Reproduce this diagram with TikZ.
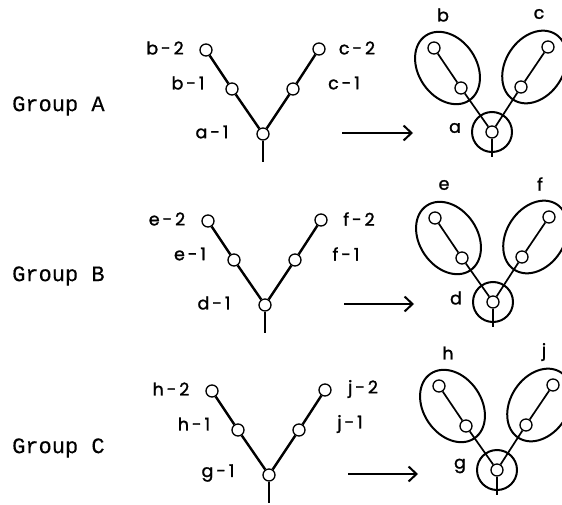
\documentclass[tikz,border=0pt]{standalone}
\usepackage{fontspec}
\setmainfont{Poppins}
\newfontfamily\labfont[FakeBold=1.4]{Poppins}
\newfontfamily\grpfont[FakeBold=0.3]{Liberation Mono}
\usetikzlibrary{arrows.meta,shapes.geometric,calc}

\tikzset{
  vtx/.style={circle, draw, line width=1.3pt, fill=white, minimum size=12pt, inner sep=0pt},
  branch/.style={line width=2.4pt},
  thinbranch/.style={line width=1.7pt},
  lab/.style={font=\labfont\fontsize{17.5}{17.5}\selectfont, inner sep=0pt},
  grp/.style={font=\grpfont\fontsize{22}{22}\selectfont, anchor=west, inner sep=0pt},
  ring/.style={line width=2pt},
  oval/.style={ellipse, draw, line width=2pt, minimum width=78pt, minimum height=58pt, inner sep=0pt},
  maparrow/.style={-{Straight Barb[length=8pt,width=15pt,line width=2pt]}, line width=2pt},
}

% Labelled tree: #1 prefix, #2/#3 root position, #4 root letter, #5 left letter, #6 right letter
\newcommand\lefttree[6]{%
  \begin{scope}[shift={(#2,#3)}]
    \node[vtx] (#1root) at (0,0) {};
    \node[vtx] (#1la) at (-31,-45) {};
    \node[vtx] (#1lb) at (-57,-84) {};
    \node[vtx] (#1ra) at (30,-45) {};
    \node[vtx] (#1rb) at (56,-85) {};
    \coordinate (#1stem) at (0,28);
    \draw[branch] (#1root) -- (#1la) -- (#1lb);
    \draw[branch] (#1root) -- (#1ra) -- (#1rb);
    \draw[branch] (#1root.south) -- (#1stem);
    \node[lab] (#1labroot) at (-51,-2) {#4\,-\,1};
    \node[lab] (#1labla) at (-75,-51) {#5\,-\,1};
    \node[lab] (#1lablb) at (-98,-86) {#5\,-\,2};
    \node[lab] (#1labra) at (81,-51) {#6\,-\,1};
    \node[lab] (#1labrb) at (94,-86) {#6\,-\,2};
    \coordinate (#1from) at (79,-1);
  \end{scope}}

% Grouped tree: #1 prefix, #2/#3 root position, #4 root letter, #5 left letter, #6 right letter
\newcommand\righttree[6]{%
  \begin{scope}[shift={(#2,#3)}]
    \node[circle, draw, ring, minimum size=40pt, inner sep=0pt] (#1ring) at (0,0) {};
    \node[vtx] (#1root) at (0,0) {};
    \node[vtx] (#1la) at (-31,-44) {};
    \node[vtx] (#1lb) at (-58,-84) {};
    \node[vtx] (#1ra) at (29,-45) {};
    \node[vtx] (#1rb) at (56,-85) {};
    \node[oval, rotate=124] (#1lov) at (-44.5,-64) {};
    \node[oval, rotate=57] (#1rov) at (42.5,-65) {};
    \coordinate (#1stem) at (0,25);
    \draw[thinbranch] (#1root) -- (#1la) -- (#1lb);
    \draw[thinbranch] (#1root) -- (#1ra) -- (#1rb);
    \draw[thinbranch] (#1root.south) -- (#1stem);
    \node[lab] (#1labroot) at (-37,-4) {#4};
    \node[lab] (#1labl) at (-49,-117) {#5};
    \node[lab] (#1labr) at (47,-118) {#6};
    \coordinate (#1to) at (-79,0);
  \end{scope}}

\begin{document}
\begin{tikzpicture}[x=1pt, y=-1pt]
  \useasboundingbox (0,0) rectangle (562,505);

  \node[grp] (gA) at (12,106) {Group A};
  \node[grp] (gB) at (12,276) {Group B};
  \node[grp] (gC) at (12,448) {Group C};

  \lefttree{A}{263}{134}{a}{b}{c}
  \lefttree{B}{265}{305}{d}{e}{f}
  \lefttree{C}{269}{475}{g}{h}{j}

  \righttree{RA}{492}{132}{a}{b}{c}
  \righttree{RB}{493}{302}{d}{e}{f}
  \righttree{RC}{497}{470}{g}{h}{j}

  % horizontal mapping arrows
  \draw[maparrow] (Afrom) -- (Afrom -| RAto);
  \draw[maparrow] (Bfrom) -- (Bfrom -| RBto);
  \draw[maparrow] (Cfrom) -- (Cfrom -| RCto);
\end{tikzpicture}
\end{document}
